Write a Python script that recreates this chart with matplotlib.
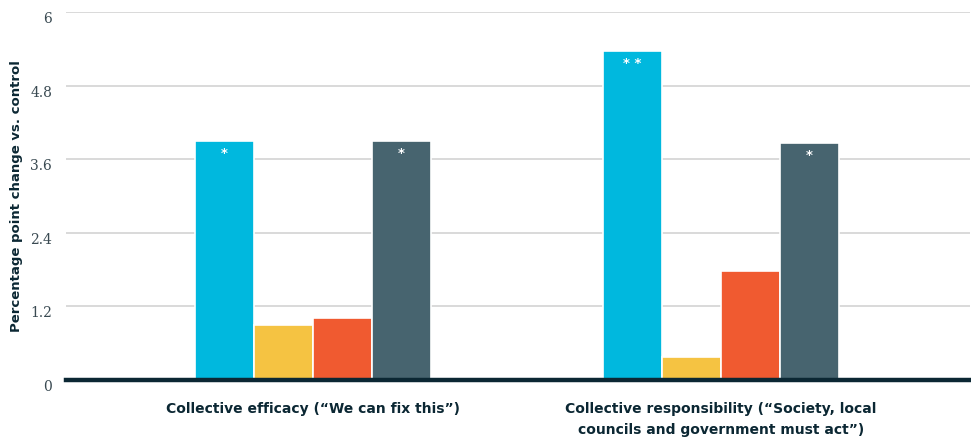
import matplotlib
matplotlib.use("Agg")
import matplotlib.pyplot as plt
import numpy as np

categories = ["Collective efficacy (\u201cWe can fix this\u201d)",
              "Collective responsibility (\u201cSociety, local\ncouncils and government must act\u201d)"]
series_cyan = [3.90, 5.37]
series_yellow = [0.90, 0.38]
series_orange = [1.01, 1.78]
series_slate = [3.90, 3.87]
sig_cyan = ["*", "* *"]
sig_yellow = ["", ""]
sig_orange = ["", ""]
sig_slate = ["*", "*"]
yticks = [0, 1.2, 2.4, 3.6, 4.8, 6]
ytick_labels = ["0", "1.2", "2.4", "3.6", "4.8", "6"]

colors = ["#00b8de", "#f5c342", "#f05a30", "#47646f"]
series = [series_cyan, series_yellow, series_orange, series_slate]
sigs = [sig_cyan, sig_yellow, sig_orange, sig_slate]

fig = plt.figure(figsize=(9.71, 4.40), dpi=100)
ax = fig.add_axes([0.068, 0.1364, 0.931, 0.8352])

x = np.arange(len(categories))
step = 0.1446
width = 0.1446
for i, (vals, c, sg) in enumerate(zip(series, colors, sigs)):
    pos = x + (i - 1.5) * step
    ax.bar(pos, vals, width=width, color=c, edgecolor="white", linewidth=1.2, zorder=3)
    for p, v, s in zip(pos, vals, sg):
        if s:
            ax.annotate(s, (p, v), xytext=(0, -9), textcoords="offset points",
                        ha="center", va="center", color="white",
                        fontsize=9.5, fontweight="bold", zorder=4)

ax.set_ylim(0, 6)
ax.set_xlim(-0.604, 1.611)
ax.set_yticks(yticks)
ax.set_yticklabels(ytick_labels, family="DejaVu Serif", fontsize=10, color="#3a4a52")
for lab in ax.get_yticklabels():
    lab.set_va("top")
ax.tick_params(axis="y", length=0, pad=10)
ax.set_xticks(x)
ax.set_xticklabels(categories, fontsize=10, fontweight="bold", color="#0b2733",
                   linespacing=1.6, va="top")
ax.tick_params(axis="x", length=0, pad=16)

ax.yaxis.grid(True, color="#d3d3d3", linewidth=1.2, zorder=0)
ax.set_axisbelow(True)
for s in ["top", "right", "left"]:
    ax.spines[s].set_visible(False)
ax.spines["bottom"].set_color("#0b2733")
ax.spines["bottom"].set_linewidth(3.2)
ax.spines["bottom"].set_zorder(5)

ax.set_ylabel("Percentage point change vs. control", fontsize=9.5, fontweight="bold",
              color="#0b2733")
ax.yaxis.set_label_coords(-0.0476, 0.5)

fig.savefig("out.png", dpi=100)
